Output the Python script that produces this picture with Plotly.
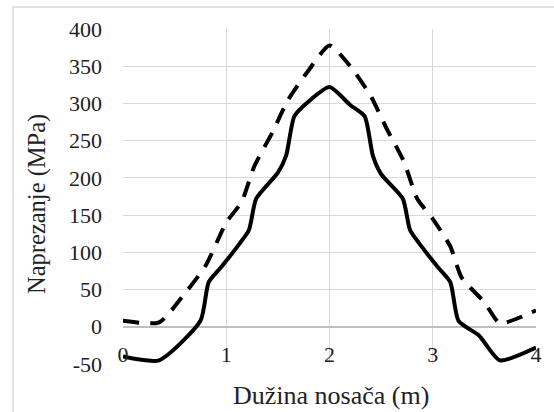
import plotly.graph_objects as go

# Solid series (smoothed in original)
x_solid = [0, 0.35, 0.75, 0.83, 0.95, 1.12, 1.22, 1.29, 1.5, 1.58, 1.66, 1.8, 2.0, 2.2, 2.34, 2.42, 2.5, 2.71, 2.78, 2.88, 3.05, 3.17, 3.25, 3.45, 3.65, 4.0]
y_solid = [-40, -45, 8, 60, 80, 110, 130, 172, 207, 230, 283, 303, 322, 298, 283, 230, 205, 172, 130, 110, 80, 60, 8, -12, -45, -28]

# Dashed series
x_dash = [0, 0.35, 0.6, 0.8, 1.0, 1.15, 1.27, 1.45, 1.6, 1.8, 2.0, 2.2, 2.4, 2.55, 2.72, 2.85, 3.0, 3.17, 3.28, 3.5, 3.65, 4.0]
y_dash = [8, 6, 45, 82, 140, 168, 215, 262, 305, 345, 378, 350, 310, 267, 222, 172, 145, 108, 66, 33, 5, 22]

x_ticks = [0, 1, 2, 3, 4]
y_ticks = [-50, 0, 50, 100, 150, 200, 250, 300, 350, 400]

x_title = "Dužina nosača (m)"
y_title = "Naprezanje (MPa)"

fig = go.Figure()
fig.add_trace(go.Scatter(x=x_dash, y=y_dash, mode="lines",
                         line=dict(color="black", width=4, dash="16px,11px", shape="spline", smoothing=0.6),
                         showlegend=False))
fig.add_trace(go.Scatter(x=x_solid, y=y_solid, mode="lines",
                         line=dict(color="black", width=4, shape="spline", smoothing=0.6),
                         showlegend=False))

font_family = "Liberation Serif, Times New Roman, serif"

fig.update_layout(
    width=554, height=412,
    margin=dict(l=123, r=18, t=29, b=48),
    paper_bgcolor="white", plot_bgcolor="white",
    font=dict(family=font_family, color="#222222"),
    xaxis=dict(range=[0, 4], tickvals=x_ticks, ticktext=[str(v) for v in x_ticks],
               showgrid=True, gridcolor="#d9d9d9", gridwidth=1,
               zeroline=False, showline=False, ticks="",
               ticklabelposition="inside", ticklabeloverflow="allow", ticklabelstandoff=-5,
               tickfont=dict(size=22, family=font_family, color="#222222")),
    yaxis=dict(range=[-50, 400], tickvals=y_ticks, ticktext=[str(v) for v in y_ticks],
               showgrid=True, gridcolor="#d9d9d9", gridwidth=1,
               zeroline=True, zerolinecolor="#bfbfbf", zerolinewidth=1.5,
               showline=False, ticks="", ticklabelstandoff=20, ticklabeloverflow="allow",
               tickfont=dict(size=22, family=font_family, color="#222222")),
    annotations=[
        dict(text=x_title, xref="paper", yref="paper", x=(331 - 123) / 413, y=(364 - 395) / 335,
             xanchor="center", yanchor="middle", showarrow=False,
             font=dict(size=26, family=font_family, color="#222222")),
        dict(text=y_title, xref="paper", yref="paper", x=(37 - 123) / 413, y=(364 - 204) / 335,
             xanchor="center", yanchor="middle", showarrow=False, textangle=-90,
             font=dict(size=24.5, family=font_family, color="#222222")),
    ],
    shapes=[
        dict(type="rect", xref="paper", yref="paper",
             x0=(13 - 123) / 413, x1=(560 - 123) / 413,
             y0=(364 - 420) / 335, y1=(364 - 7) / 335,
             line=dict(color="#d9d9d9", width=1.5), layer="below"),
    ],
)

fig.write_html("out.html", config={"displayModeBar": False},
               post_script="document.body.style.margin='0';document.body.style.overflow='hidden';")
